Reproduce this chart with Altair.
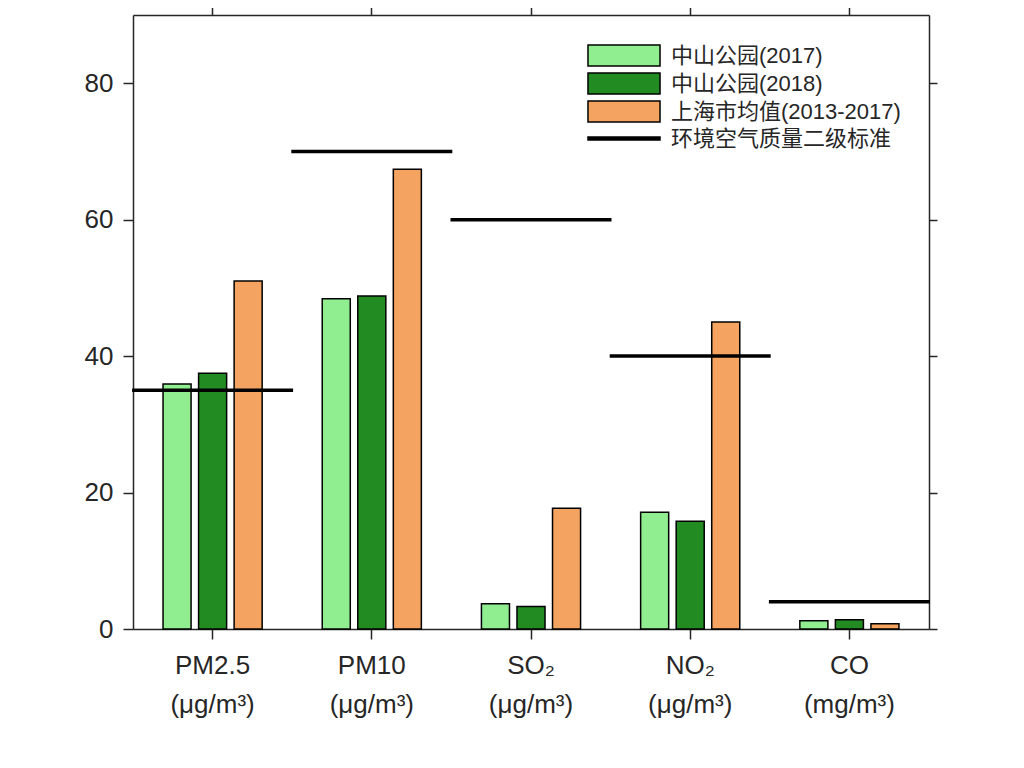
import altair as alt
import pandas as pd

categories = ["PM2.5|(μg/m³)", "PM10|(μg/m³)", "SO₂|(μg/m³)", "NO₂|(μg/m³)", "CO|(mg/m³)"]
series = ["中山公园(2017)", "中山公园(2018)", "上海市均值(2013-2017)"]
zs2017 = [35.9, 48.4, 3.7, 17.1, 1.2]
zs2018 = [37.5, 48.8, 3.3, 15.8, 1.35]
shanghai = [51.0, 67.4, 17.7, 45.0, 0.78]
standard = [35, 70, 60, 40, 4]
standard_name = "环境空气质量二级标准"
colors = ["#90EE90", "#228B22", "#F4A460"]

rows = []
for i, c in enumerate(categories):
    for s, vals in zip(series, [zs2017, zs2018, shanghai]):
        rows.append({"cat": c, "series": s, "value": vals[i]})
df = pd.DataFrame(rows)
dstd = pd.DataFrame({"cat": categories, "value": standard, "series": [standard_name] * 5})

AX = "#262626"
FONT = "Liberation Sans"
LFONT = "Liberation Sans, Noto Sans CJK SC"

xscale = alt.Scale(paddingInner=0, paddingOuter=0)
yscale = alt.Scale(domain=[0, 90], nice=False, zero=True)

rect_path = "M-3.43,-1L3.43,-1L3.43,1L-3.43,1Z"
line_path = "M-3.43,-0.14L3.43,-0.14L3.43,0.14L-3.43,0.14Z"

bar_legend = alt.Legend(
    title=None, orient="none", legendX=479.5, legendY=29, padding=0,
    symbolSize=441, symbolType=rect_path, symbolStrokeColor="black", symbolStrokeWidth=1.5,
    labelFont=LFONT, labelFontSize=22, labelColor=AX, labelLimit=500,
    labelOffset=35.5, rowPadding=1, symbolOpacity=1,
)
std_legend = alt.Legend(
    title=None, orient="none", legendX=479.5, legendY=112, padding=0,
    symbolSize=441, symbolType=line_path, symbolFillColor="black", symbolStrokeWidth=1.5,
    labelFont=LFONT, labelFontSize=22, labelColor=AX, labelLimit=500,
    labelOffset=35.5, symbolOpacity=1,
)

bottom_axis = alt.Axis(title=None, orient="bottom", labelAngle=0, labelFont=FONT, labelFontSize=26,
                       labelColor=AX, domainColor=AX, tickColor=AX, domainWidth=1.5, tickWidth=1.5,
                       tickSize=10, labelPadding=13, labelLineHeight=39,
                       labelExpr="split(datum.label, '|')", labelBaseline="top")
left_axis = alt.Axis(title=None, orient="left", values=[0, 20, 40, 60, 80], grid=False, labelFont=FONT,
                     labelFontSize=26, labelColor=AX, domainColor=AX, tickColor=AX, domainWidth=1.5,
                     tickWidth=1.5, tickSize=10, labelPadding=10)
top_axis = alt.Axis(title=None, orient="top", labels=False, domainColor=AX, tickColor=AX, domainWidth=1.5,
                    tickWidth=1.5, tickSize=10)
right_axis = alt.Axis(title=None, orient="right", labels=False, values=[0, 20, 40, 60, 80], grid=False,
                      domainColor=AX, tickColor=AX, domainWidth=1.5, tickWidth=1.5, tickSize=8)

bars = alt.Chart(df).mark_bar(stroke="black", strokeWidth=1.5).encode(
    x=alt.X("cat:N", sort=categories, scale=xscale, axis=bottom_axis),
    xOffset=alt.XOffset("series:N", sort=series, scale=alt.Scale(paddingInner=0.211, paddingOuter=0.845)),
    y=alt.Y("value:Q", scale=yscale, axis=left_axis),
    fill=alt.Fill("series:N", sort=series, scale=alt.Scale(domain=series, range=colors), legend=bar_legend),
)

std = alt.Chart(dstd).mark_tick(thickness=3.5, size=161, opacity=1, fill="black", strokeWidth=0).encode(
    x=alt.X("cat:N", sort=categories, scale=xscale, axis=top_axis),
    y=alt.Y("value:Q", scale=yscale, axis=right_axis),
    stroke=alt.Stroke("series:N", scale=alt.Scale(domain=[standard_name], range=["black"]), legend=std_legend),
)

chart = alt.layer(bars, std).resolve_axis(x="independent", y="independent").properties(
    width=796, height=614,
    autosize=alt.AutoSizeParams(type="none"),
    padding={"left": 125, "top": 7, "right": 80, "bottom": 130},
).configure_view(stroke=None).configure(background="white")

chart.save("out.html", embed_options={"renderer": "svg", "actions": False})
